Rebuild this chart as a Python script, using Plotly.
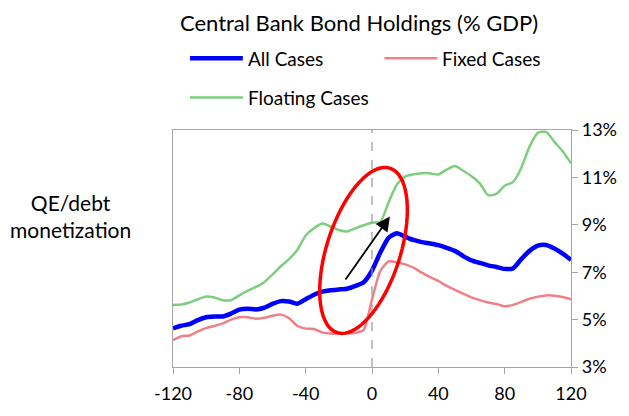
import numpy as np
import plotly.graph_objects as go

# months relative to the start of QE / debt monetization
months = list(range(-120, 121, 5))

all_cases = [4.63, 4.74, 4.81, 4.98, 5.10, 5.13, 5.13, 5.25, 5.42, 5.46,
             5.43, 5.50, 5.66, 5.78, 5.76, 5.67, 5.86, 6.05, 6.18, 6.24,
             6.27, 6.30, 6.42, 6.58, 7.07, 7.83, 8.45, 8.64, 8.50, 8.36,
             8.27, 8.21, 8.14, 8.03, 7.90, 7.68, 7.50, 7.39, 7.29, 7.22,
             7.14, 7.16, 7.55, 7.90, 8.12, 8.15, 8.00, 7.78, 7.52]

fixed_cases = [4.13, 4.30, 4.33, 4.50, 4.64, 4.73, 4.84, 5.00, 5.10, 5.10,
               5.04, 5.08, 5.16, 5.21, 5.06, 4.73, 4.62, 4.60, 4.46, 4.41,
               4.41, 4.41, 4.44, 4.57, 5.86, 7.05, 7.46, 7.42, 7.33, 7.19,
               6.98, 6.79, 6.63, 6.42, 6.25, 6.10, 5.94, 5.82, 5.72, 5.66,
               5.56, 5.62, 5.75, 5.88, 5.97, 6.02, 6.01, 5.95, 5.86]

floating_cases = [5.62, 5.64, 5.72, 5.86, 5.97, 5.93, 5.82, 5.82, 6.02, 6.22,
                  6.38, 6.58, 6.90, 7.25, 7.55, 7.95, 8.55, 8.85, 9.05, 8.93,
                  8.78, 8.72, 8.85, 8.98, 9.09, 9.12, 9.95, 10.70, 11.03, 11.13,
                  11.18, 11.17, 11.12, 11.33, 11.48, 11.28, 11.05, 10.75, 10.25, 10.30,
                  10.65, 10.80, 11.40, 12.30, 12.88, 12.92, 12.50, 12.10, 11.59]

series_names = ['All Cases', 'Fixed Cases', 'Floating Cases']
series_values = [all_cases, fixed_cases, floating_cases]
series_colors = ['#0000FF', '#EF8087', '#7DCE7D']
series_widths = [4.5, 2.5, 2.5]

x_ticks = [-120, -80, -40, 0, 40, 80, 120]
x_labels = ['-120', '-80', '-40', '0', '40', '80', '120']
y_ticks = [3, 5, 7, 9, 11, 13]
y_labels = ['3%', '5%', '7%', '9%', '11%', '13%']

FONT = 'Lato'
PAGE_W, PAGE_H = 629, 416
OFF = 8  # body margin of the html page
PL, PR, PT, PB = 173, 572, 130, 378  # plot box in page pixels
W, H = PAGE_W - OFF, PAGE_H - OFF


def page_to_paper(px, py):
    return (px - PL) / (PR - PL), (PB - py) / (PB - PT)


fig = go.Figure()

# fixed first, then floating, all cases on top
for i in [1, 2, 0]:
    fig.add_trace(go.Scatter(
        x=months,
        y=series_values[i],
        mode='lines',
        name=series_names[i],
        line=dict(color=series_colors[i], width=series_widths[i], shape='spline', smoothing=0.6),
        showlegend=False
    ))

# zero line
fig.add_shape(type='line', x0=0, x1=0, y0=3, y1=13, xref='x', yref='y',
              line=dict(color='#999999', width=1.2, dash='dash'))

# red ellipse around the jump (built in pixel space, mapped to data units)
cx_px, cy_px = 364, 256
a_px, b_px, tilt = 90, 37, np.deg2rad(16.8)
t = np.linspace(0, 2 * np.pi, 80)
ex = cx_px + a_px * np.cos(t) * np.sin(tilt) + b_px * np.sin(t) * np.cos(tilt)
ey = cy_px - a_px * np.cos(t) * np.cos(tilt) + b_px * np.sin(t) * np.sin(tilt)
ex_d = (ex - PL) / (PR - PL) * 240 - 120
ey_d = 13 - (ey - PT) / (PB - PT) * 10
path = 'M ' + ' L '.join(f'{x:.3f},{y:.4f}' for x, y in zip(ex_d, ey_d)) + ' Z'
fig.add_shape(type='path', path=path, xref='x', yref='y',
              line=dict(color='#FF0000', width=3.5))

# arrow
fig.add_annotation(x=10.8, y=9.35, ax=-16.6, ay=6.63, xref='x', yref='y',
                   axref='x', ayref='y', text='', showarrow=True,
                   arrowhead=2, arrowsize=1.6, arrowwidth=1.8, arrowcolor='black')

# legend drawn by hand to match the two-row layout
legend_pos = [(190, 243, 55), (385, 438, 55), (190, 243, 96)]
for name, color, width, (x0, x1, yy) in zip(series_names, series_colors, series_widths, legend_pos):
    p0 = page_to_paper(x0, yy)
    p1 = page_to_paper(x1, yy)
    fig.add_shape(type='line', xref='paper', yref='paper',
                  x0=p0[0], x1=p1[0], y0=p0[1], y1=p1[1],
                  line=dict(color=color, width=width))
    tx, ty = page_to_paper(x1 + 3, yy)
    fig.add_annotation(x=tx, y=ty, xref='paper', yref='paper', text=name,
                       showarrow=False, xanchor='left', yanchor='middle',
                       font=dict(family=FONT, size=19, color='black'))

# y-axis description on the left
lx, ly = page_to_paper(70, 220)
fig.add_annotation(x=lx, y=ly, xref='paper', yref='paper',
                   text='QE/debt<br>monetization', showarrow=False,
                   xanchor='center', yanchor='middle', align='center',
                   font=dict(family=FONT, size=21, color='black'))

fig.update_layout(
    width=W, height=H,
    margin=dict(l=PL - OFF, r=PAGE_W - PR, t=PT - OFF, b=PAGE_H - PB),
    paper_bgcolor='white', plot_bgcolor='white',
    title=dict(text='Central Bank Bond Holdings (% GDP)', x=(359 - OFF) / W, xanchor='center',
               y=1 - (23 - OFF) / H, yanchor='middle',
               font=dict(family=FONT, size=22, color='black')),
    font=dict(family=FONT, size=18, color='black'),
    xaxis=dict(range=[-120, 120], tickvals=x_ticks, ticktext=x_labels,
               showgrid=False, zeroline=False,
               showline=True, linecolor='#A6A6A6', linewidth=1.2, mirror=True,
               ticks='outside', ticklen=6, tickcolor='#A6A6A6', ticklabelstandoff=4),
    yaxis=dict(range=[3, 13], tickvals=y_ticks, ticktext=y_labels, side='right',
               showgrid=False, zeroline=False,
               showline=True, linecolor='#A6A6A6', linewidth=1.2, mirror=True,
               ticks='outside', ticklen=6, tickcolor='#A6A6A6'),
)

fig.write_html('out.html')
